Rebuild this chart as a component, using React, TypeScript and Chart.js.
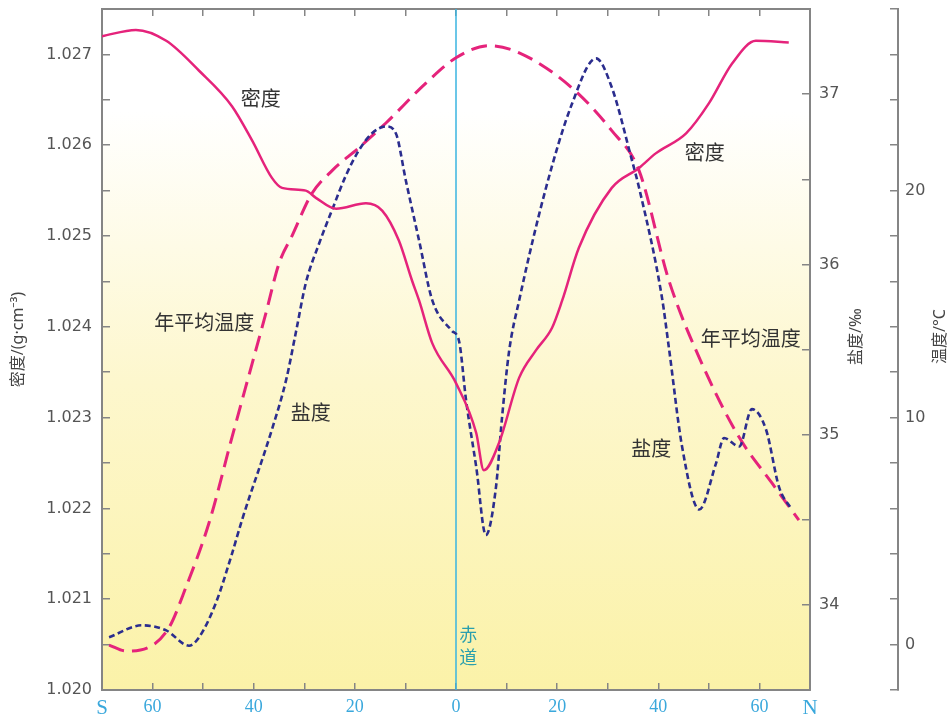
import React, { useEffect, useRef } from 'react';
import { Chart, registerables } from 'chart.js';

Chart.register(...registerables);

// ---- data (latitude: negative = south, positive = north) ----
const densityLat = [-70, -63.3, -57.3, -50.8, -44.3, -40.3, -36.4, -34.4, -29.7, -27.7, -23.7, -17.8, -14.6, -11.3, -8.7, -7.3, -4.7, 0, 4.0, 5.5, 8.5, 12.5, 15.8, 19.0, 21.0, 24.3, 30.8, 36.2, 39.5, 45.5, 50.0, 54.6, 59.3, 65.8];
const densityValues = [1.0272, 1.02727, 1.02715, 1.02682, 1.02643, 1.02605, 1.02564, 1.02553, 1.0255, 1.02542, 1.0253, 1.02536, 1.02528, 1.02495, 1.02451, 1.02429, 1.02382, 1.02338, 1.02283, 1.02242, 1.02272, 1.02344, 1.02374, 1.02399, 1.02429, 1.02487, 1.02553, 1.02575, 1.02591, 1.02613, 1.02646, 1.0269, 1.02715, 1.02713];

const salinityLat = [-68.6, -62.1, -57.3, -52.8, -50.8, -47.5, -44.3, -42.3, -36.4, -33.6, -31.6, -29.7, -27.1, -24.5, -21.8, -19.2, -16.6, -13.8, -11.9, -9.9, -7.3, -4.7, -0.8, 0.6, 2.0, 4.0, 5.9, 7.9, 9.1, 10.5, 12.5, 17.8, 22.9, 27.7, 30.8, 34.8, 36.2, 40.7, 42.1, 44.7, 48.1, 51.4, 53.0, 56.0, 58.5, 61.3, 63.9, 66.4];
const salinityValues = [33.81, 33.88, 33.85, 33.76, 33.81, 34.01, 34.3, 34.5, 35.03, 35.32, 35.61, 35.89, 36.12, 36.32, 36.52, 36.67, 36.77, 36.81, 36.77, 36.49, 36.14, 35.79, 35.61, 35.55, 35.2, 34.81, 34.41, 34.69, 35.1, 35.49, 35.79, 36.45, 36.94, 37.21, 37.04, 36.61, 36.45, 35.81, 35.51, 34.93, 34.56, 34.83, 34.98, 34.93, 35.15, 35.03, 34.69, 34.56];

const temperatureLat = [-68.6, -65.3, -60.7, -56.8, -53.4, -48.8, -44.3, -40.3, -37.6, -35.0, -32.4, -28.5, -24.5, -19.2, -13.8, -5.9, 0, 6.5, 12.5, 22.9, 30.8, 36.2, 42.1, 48.6, 56.0, 62.5, 67.8];
const temperatureValues = [-0.02, -0.28, -0.11, 0.73, 2.53, 5.39, 9.13, 12.39, 14.59, 16.79, 18.02, 19.87, 20.88, 21.89, 22.99, 24.75, 25.85, 26.38, 26.07, 24.53, 22.64, 20.88, 16.04, 12.39, 9.13, 7.11, 5.48];

// ---- tick labels ----
const xLabelValues = [-70, -60, -40, -20, 0, 20, 40, 60, 70];
const xLabelTexts = ['S', '60', '40', '20', '0', '20', '40', '60', 'N'];
const salinityLabelValues = [34, 35, 36, 37];
const temperatureLabelValues = [0, 10, 20];

// ---- in-plot text labels (latitude, density-axis value) ----
const noteTexts = ['密度', '密度', '年平均温度', '年平均温度', '盐度', '盐度'];
const noteLat = [-38.6, 49.2, -49.8, 58.3, -28.7, 38.6];
const noteDensity = [1.02652, 1.02592, 1.02405, 1.02387, 1.02306, 1.02266];
const equatorChars = ['赤', '道'];
const equatorLat = [2.4, 2.4];
const equatorDensity = [1.02062, 1.02036];

const toPoints = (xs: number[], ys: number[]) => xs.map((x, i) => ({ x, y: ys[i] }));

const AXIS_GRAY = '#858585';
const PINK = '#e5237b';
const NAVY = '#2b2d8e';
const CJK = '"Noto Sans CJK SC", "Noto Sans", sans-serif';
const TITLE_FONT = '"Noto Sans", "Noto Sans CJK SC", sans-serif';

const noPad = (s: any) => {
  s.paddingTop = 0;
  s.paddingBottom = 0;
  s.paddingLeft = 0;
  s.paddingRight = 0;
};

const decorPlugin = {
  id: 'decor',
  beforeDraw(chart: any) {
    const { ctx, chartArea } = chart;
    const { left, top, right, bottom } = chartArea;
    const g = ctx.createLinearGradient(0, top, 0, bottom);
    g.addColorStop(0, '#ffffff');
    g.addColorStop(0.15, '#ffffff');
    g.addColorStop(0.55, '#fdf7cd');
    g.addColorStop(1, '#fbf2a8');
    ctx.save();
    ctx.fillStyle = g;
    ctx.fillRect(left, top, right - left, bottom - top);
    ctx.restore();
  },
  afterDraw(chart: any) {
    const { ctx, chartArea, scales } = chart;
    const midY = (chartArea.top + chartArea.bottom) / 2 - 10;
    const drawRot = (text: string, x: number, y: number) => {
      ctx.save();
      ctx.translate(x, y);
      ctx.rotate(-Math.PI / 2);
      ctx.textAlign = 'center';
      ctx.textBaseline = 'middle';
      ctx.fillText(text, 0, 0);
      ctx.restore();
    };
    ctx.save();
    ctx.fillStyle = '#444';
    ctx.font = `16px ${TITLE_FONT}`;
    drawRot('密度/(g·cm⁻³)', scales.yD.left + 18, midY);
    drawRot('盐度/‰', scales.yS.left + 46, midY - 3);
    drawRot('温度/°C', scales.yT.left + 42, midY - 3);

    ctx.fillStyle = '#333';
    ctx.font = `20px ${CJK}`;
    ctx.textAlign = 'center';
    ctx.textBaseline = 'middle';
    noteTexts.forEach((t, i) => {
      ctx.fillText(t, scales.x.getPixelForValue(noteLat[i]), scales.yD.getPixelForValue(noteDensity[i]));
    });
    ctx.fillStyle = '#2a9fae';
    ctx.font = `18px ${CJK}`;
    equatorChars.forEach((t, i) => {
      ctx.fillText(t, scales.x.getPixelForValue(equatorLat[i]), scales.yD.getPixelForValue(equatorDensity[i]));
    });
    ctx.restore();
  },
};

export default function App() {
  const ref = useRef<HTMLCanvasElement | null>(null);

  useEffect(() => {
    if (!ref.current) return;
    const numFont = { family: '"DejaVu Sans", sans-serif', size: 16 };
    const chart = new Chart(ref.current, {
      type: 'line',
      data: {
        datasets: [
          {
            label: '密度',
            data: toPoints(densityLat, densityValues),
            yAxisID: 'yD',
            borderColor: PINK,
            borderWidth: 2.5,
            pointRadius: 0,
            cubicInterpolationMode: 'monotone',
          },
          {
            label: '盐度',
            data: toPoints(salinityLat, salinityValues),
            yAxisID: 'yS',
            borderColor: NAVY,
            borderWidth: 2.6,
            borderDash: [6, 3.5],
            pointRadius: 0,
            cubicInterpolationMode: 'monotone',
          },
          {
            label: '年平均温度',
            data: toPoints(temperatureLat, temperatureValues),
            yAxisID: 'yT',
            borderColor: PINK,
            borderWidth: 3,
            borderDash: [16, 8],
            pointRadius: 0,
            cubicInterpolationMode: 'monotone',
          },
          {
            label: '赤道',
            data: [
              { x: 0, y: 1.02 },
              { x: 0, y: 1.0275 },
            ],
            yAxisID: 'yD',
            borderColor: '#3ab4e0',
            borderWidth: 1.5,
            pointRadius: 0,
          },
        ],
      } as any,
      options: {
        animation: false,
        responsive: true,
        maintainAspectRatio: false,
        layout: { padding: 0 },
        plugins: { legend: { display: false }, tooltip: { enabled: false } },
        scales: {
          x: {
            type: 'linear',
            position: 'bottom',
            min: -70,
            max: 70,
            afterFit: (s: any) => { s.height = 27; noPad(s); },
            border: { color: AXIS_GRAY, width: 2 },
            grid: { drawOnChartArea: false, tickLength: -7, color: AXIS_GRAY, lineWidth: 1.5 },
            ticks: {
              stepSize: 10,
              autoSkip: false,
              maxRotation: 0,
              maxTicksLimit: 100,
              padding: 13,
              color: '#3aa8dc',
              font: (c: any) => ({
                family: '"Liberation Serif", "DejaVu Serif", serif',
                size: c.tick && Math.abs(c.tick.value) === 70 ? 21 : 18,
              }),
              callback: (v: any) => {
                const i = xLabelValues.indexOf(Math.round(Number(v)));
                return i >= 0 ? xLabelTexts[i] : '';
              },
            },
          },
          x2: {
            type: 'linear',
            position: 'top',
            min: -70,
            max: 70,
            afterFit: (s: any) => { s.height = 9; noPad(s); },
            border: { color: AXIS_GRAY, width: 2 },
            grid: { drawOnChartArea: false, tickLength: -7, color: AXIS_GRAY, lineWidth: 1.5 },
            ticks: { display: false, stepSize: 10, maxTicksLimit: 100, autoSkip: false },
          },
          yD: {
            type: 'linear',
            position: 'left',
            min: 1.02,
            max: 1.0275,
            afterFit: (s: any) => { s.width = 102; noPad(s); },
            border: { color: AXIS_GRAY, width: 2 },
            grid: { drawOnChartArea: false, tickLength: -8, color: AXIS_GRAY, lineWidth: 1.5 },
            ticks: {
              stepSize: 0.0005,
              maxTicksLimit: 100,
              autoSkip: false,
              padding: 18,
              color: '#555',
              font: numFont,
              callback: (v: any) => {
                const k = Math.round(Number(v) * 2000);
                return k % 2 === 0 ? (k / 2000).toFixed(3) : '';
              },
            },
          },
          yS: {
            type: 'linear',
            position: 'right',
            weight: 0,
            min: 33.5,
            max: 37.5,
            afterFit: (s: any) => { s.width = 88; noPad(s); },
            border: { color: AXIS_GRAY, width: 2 },
            grid: { drawOnChartArea: false, tickLength: -8, color: AXIS_GRAY, lineWidth: 1.5 },
            ticks: {
              stepSize: 0.5,
              maxTicksLimit: 100,
              autoSkip: false,
              padding: 17,
              color: '#555',
              font: numFont,
              callback: (v: any) => {
                const r = Math.round(Number(v));
                return Math.abs(Number(v) - r) < 1e-6 && salinityLabelValues.includes(r) ? String(r) : '';
              },
            },
          },
          yT: {
            type: 'linear',
            position: 'right',
            weight: 1,
            min: -2,
            max: 28,
            afterFit: (s: any) => { s.width = 50; noPad(s); },
            border: { color: AXIS_GRAY, width: 2 },
            grid: { drawOnChartArea: false, tickLength: -8, color: AXIS_GRAY, lineWidth: 1.5 },
            ticks: {
              stepSize: 2,
              maxTicksLimit: 100,
              autoSkip: false,
              padding: 15,
              color: '#555',
              font: numFont,
              callback: (v: any) => {
                const r = Math.round(Number(v));
                return temperatureLabelValues.includes(r) ? String(r) : '';
              },
            },
          },
        },
      } as any,
      plugins: [decorPlugin],
    });
    return () => chart.destroy();
  }, []);

  return (
    <div style={{ position: 'absolute', left: 0, top: 0, width: 948, height: 717, background: '#fff' }}>
      <canvas ref={ref} />
    </div>
  );
}
